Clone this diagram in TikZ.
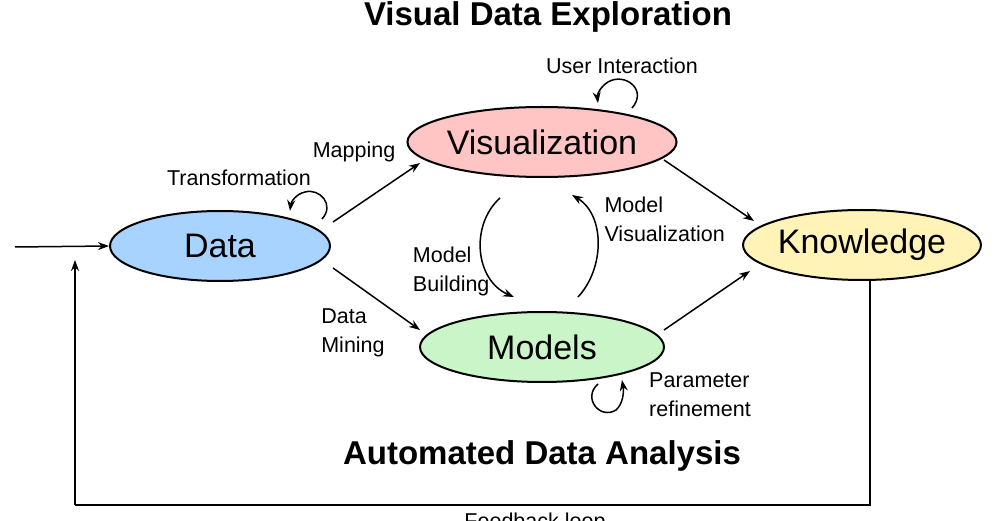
\documentclass[tikz,border=0pt]{standalone}
\usepackage{fontspec}
\setmainfont{Liberation Sans}
\usetikzlibrary{shapes.geometric,arrows.meta}
\begin{document}
\begin{tikzpicture}[x=1pt,y=-1pt,
  ell/.style={draw,ellipse,line width=2pt,minimum height=70pt,inner sep=0pt,font=\fontsize{34}{40}\selectfont},
  arr/.style={-{Stealth[length=11pt,width=8pt]},line width=1.5pt},
  lbl/.style={font=\fontsize{21.5}{29}\selectfont},
  ttl/.style={font=\fontsize{33}{38}\selectfont\bfseries}]
\useasboundingbox (0,0) rectangle (1007,521);
\definecolor{cdata}{HTML}{A9D3FF}
\definecolor{cvis}{HTML}{FFC4C4}
\definecolor{cmod}{HTML}{C9F5C9}
\definecolor{ckno}{HTML}{FFF3B8}
\node[ell,fill=cdata,minimum width=220pt] (data) at (220,246) {Data};
\node[ell,fill=cvis,minimum width=244pt] (vis) at (542,142) {Visualization};
\node[ell,fill=cmod,minimum width=244pt] (mod) at (542,347) {Models};
\node[ell,fill=ckno,minimum width=234pt] (kno) at (862,245) {Knowledge};
\node[ttl] (t1) at (548,17) {Visual Data Exploration};
\node[ttl] (t2) at (542,456) {Automated Data Analysis};
\node[lbl] (lui) at (622,66) {User Interaction};
\node[lbl] (lmap) at (354,152) {Mapping};
\node[lbl] (ltr) at (239,178) {Transformation};
\node[lbl,align=left,anchor=west] (lmv) at (601,219) {Model\\Visualization};
\node[lbl,align=left,anchor=east] (lmb) at (493,271) {Model\\Building};
\node[lbl,align=left] (ldm) at (353,333) {Data\\Mining};
\node[lbl,align=left] (lpr) at (700,395) {Parameter\\refinement};
\node[lbl,anchor=north] (lfb) at (535,509) {Feedback loop};
\coordinate (in) at (15,247);
\coordinate (fb1) at (870,505);
\coordinate (fb2) at (75,505);
\coordinate (fb3) at (75,260);
\coordinate (d1) at (333,222); \coordinate (v1) at (420,163);
\coordinate (d2) at (333,268); \coordinate (m1) at (420,330);
\coordinate (v2) at (664,160); \coordinate (k1) at (754,221);
\coordinate (m2) at (664,330); \coordinate (k2) at (750,271);
\draw[arr] (in) -- (data.west);
\draw[arr] (d1) -- (v1);
\draw[arr] (d2) -- (m1);
\draw[arr] (v2) -- (k1);
\draw[arr] (m2) -- (k2);
\draw[line width=1.5pt] (kno.south) ++(8,0) coordinate (k0) -- (k0 |- fb1) -- (fb2);
\draw[arr] (fb2) -- (fb3);
\coordinate (mb1) at (500,198); \coordinate (mb2) at (514,297);
\draw[arr] (mb1) .. controls (470,225) and (475,280) .. (mb2);
\coordinate (mv1) at (578,297); \coordinate (mv2) at (572,195);
\draw[arr] (mv1) .. controls (605,268) and (605,215) .. (mv2);
\coordinate (u1) at (632,108); \coordinate (u2) at (598,103);
\draw[arr] (u1) .. controls (648,90) and (625,72) .. (608,82) .. controls (600,87) and (597,95) .. (u2);
\coordinate (tr1) at (322,219); \coordinate (tr2) at (290,211);
\draw[arr] (tr1) .. controls (335,205) and (320,188) .. (305,192) .. controls (296,194) and (291,202) .. (tr2);
\coordinate (p1) at (598,384); \coordinate (p2) at (622,380);
\draw[arr] (p1) .. controls (582,398) and (600,420) .. (616,410) .. controls (623,404) and (624,392) .. (p2);
\end{tikzpicture}
\end{document}
